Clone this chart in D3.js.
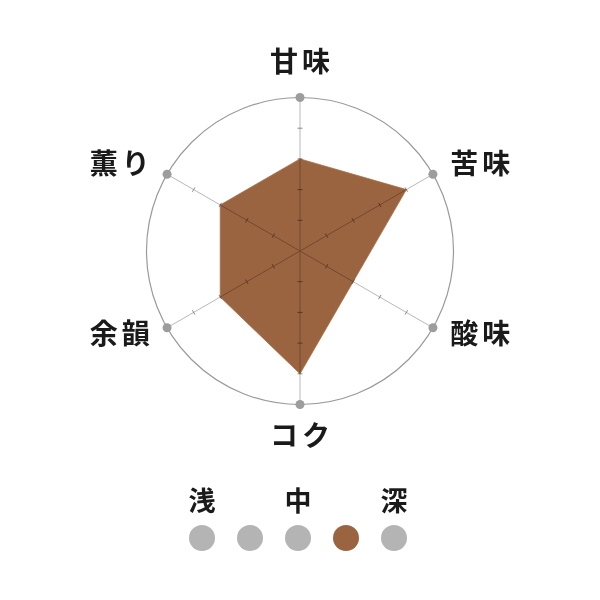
<!DOCTYPE html>
<html>
<head>
<meta charset="utf-8">
<script src="https://cdn.jsdelivr.net/npm/d3@7"></script>
<style>
  body { margin: 0; background: #fff; }
  text { font-family: "Noto Sans CJK JP", "Noto Sans", sans-serif; font-weight: 700; fill: #1a1a1a; }
</style>
</head>
<body>
<svg></svg>
<script>
// chart data
var axes = ["甘味", "苦味", "酸味", "コク", "余韻", "薫り"];
var values = [3, 4, 2, 4, 3, 3];
var maxValue = 5;
var tickValues = [1, 2, 3, 4];
var roastLabels = ["浅", "", "中", "", "深"];
var roastLevels = [1, 2, 3, 4, 5];
var roastSelected = 4;

var w = 600, h = 600;
var cx = 300, cy = 251, r = 153.5;
var brown = "#9b6440";

var svg = d3.select("svg").attr("width", w).attr("height", h);
var g = svg.append("g").attr("transform", "translate(" + cx + "," + cy + ")");

var rScale = d3.scaleLinear().domain([0, maxValue]).range([0, r]);
var angle = d3.scaleLinear().domain([0, axes.length]).range([0, Math.PI * 2]);

function px(i, v) { return Math.sin(angle(i)) * rScale(v); }
function py(i, v) { return -Math.cos(angle(i)) * rScale(v); }

// outer circle
g.append("circle").attr("r", r)
  .attr("fill", "none").attr("stroke", "#9a9a9a").attr("stroke-width", 1.2);

// data polygon
var radar = d3.lineRadial()
  .angle(function (d, i) { return angle(i); })
  .radius(function (d) { return rScale(d); })
  .curve(d3.curveLinearClosed);

g.append("path").datum(values)
  .attr("d", radar)
  .attr("fill", brown)
  .attr("stroke", "#a86c42").attr("stroke-width", 0.8);

// axes drawn on top, multiplied so they darken over the fill
var axisG = g.append("g").style("mix-blend-mode", "multiply");
axisG.selectAll("line.axis").data(axes).enter().append("line")
  .attr("class", "axis")
  .attr("x1", 0).attr("y1", 0)
  .attr("x2", function (d, i) { return px(i, maxValue); })
  .attr("y2", function (d, i) { return py(i, maxValue); })
  .attr("stroke", "#b8b8b8").attr("stroke-width", 1);

// small tick marks across each axis
axes.forEach(function (a, i) {
  var ca = Math.cos(angle(i)), sa = Math.sin(angle(i));
  axisG.selectAll("line.tick" + i).data(tickValues).enter().append("line")
    .attr("class", "tick" + i)
    .attr("x1", function (v) { return px(i, v) - ca * 2.5; })
    .attr("y1", function (v) { return py(i, v) - sa * 2.5; })
    .attr("x2", function (v) { return px(i, v) + ca * 2.5; })
    .attr("y2", function (v) { return py(i, v) + sa * 2.5; })
    .attr("stroke", "#8a8a8a").attr("stroke-width", 1);
});

// end dots
g.selectAll("circle.dot").data(axes).enter().append("circle")
  .attr("class", "dot")
  .attr("cx", function (d, i) { return px(i, maxValue); })
  .attr("cy", function (d, i) { return py(i, maxValue); })
  .attr("r", 4.5).attr("fill", "#9d9d9d");

// axis labels
g.selectAll("text.label").data(axes).enter().append("text")
  .attr("class", "label")
  .attr("x", function (d, i) {
    var s = Math.sin(angle(i));
    return Math.abs(s) < 0.1 ? 0 : s * 208;
  })
  .attr("y", function (d, i) {
    var s = Math.sin(angle(i)), c = Math.cos(angle(i));
    return (Math.abs(s) < 0.1 ? -c * 187 : -c * 170) - 4;
  })
  .attr("text-anchor", "middle")
  .attr("dominant-baseline", "central")
  .style("font-size", "28px")
  .style("letter-spacing", "4px")
  .attr("dx", 2)
  .text(function (d) { return d; });

// roast legend
var legendX = d3.scalePoint().domain(roastLevels).range([202, 394]);
var legend = svg.append("g");

legend.selectAll("text").data(roastLevels).enter().append("text")
  .attr("x", function (d) { return legendX(d); })
  .attr("y", 499)
  .attr("text-anchor", "middle")
  .attr("dominant-baseline", "central")
  .style("font-size", "27px")
  .text(function (d, i) { return roastLabels[i]; });

legend.selectAll("circle").data(roastLevels).enter().append("circle")
  .attr("cx", function (d) { return legendX(d); })
  .attr("cy", 538)
  .attr("r", 13)
  .attr("fill", function (d) { return d === roastSelected ? brown : "#b4b4b4"; });
</script>
</body>
</html>
